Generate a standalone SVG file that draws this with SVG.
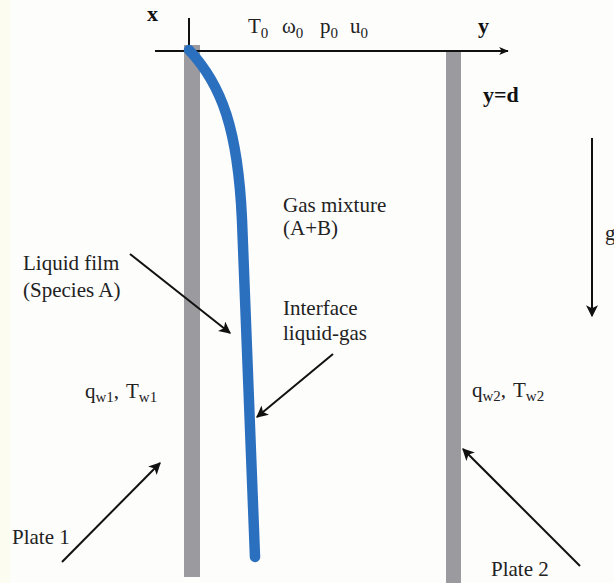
<svg xmlns="http://www.w3.org/2000/svg" width="614" height="583" viewBox="0 0 614 583">
<style>
.t{font-family:"Liberation Serif","Times New Roman",serif;font-size:21px;fill:#222}
.b{font-family:"Liberation Serif","Times New Roman",serif;font-size:22px;font-weight:bold;fill:#111}
.s{font-size:15px}
.plate{fill:#9b9a9f}
.ln{stroke:#111;stroke-width:2;fill:none}
</style>
<defs>
<marker id="ah" viewBox="0 0 10 10" refX="9" refY="5" markerWidth="6" markerHeight="6" orient="auto" markerUnits="strokeWidth">
<path d="M0,0 L10,5 L0,10 L2.5,5 Z" fill="#111"/>
</marker>
<marker id="axh" viewBox="0 0 12 10" refX="11" refY="5" markerWidth="10" markerHeight="8" orient="auto" markerUnits="userSpaceOnUse">
<path d="M0,0 L12,5 L0,10 L3,5 Z" fill="#111"/>
</marker>
</defs>
<rect width="614" height="583" fill="#fdfdfc"/>
<rect width="10" height="583" fill="#fdfcf0"/>
<g id="plate1"><rect class="plate" x="184" y="45" width="16" height="532"/></g>
<g id="plate2"><rect class="plate" x="446" y="50" width="15" height="533"/></g>
<g id="axes">
<line class="ln" x1="155" y1="51" x2="508" y2="51" stroke-width="1.6" marker-end="url(#axh)"/>
<line class="ln" x1="189" y1="18" x2="189" y2="51" stroke-width="1.6"/>
<text class="b" x="147" y="21">x</text>
<text class="b" x="478" y="33">y</text>
<text class="b" x="483" y="102">y=d</text>
</g>
<g id="inlet">
<text class="t" x="248" y="33">T<tspan class="s" dy="5">0</tspan></text>
<text class="t" x="282" y="33">ω<tspan class="s" dy="5">0</tspan></text>
<text class="t" x="320" y="33">p<tspan class="s" dy="5">0</tspan></text>
<text class="t" x="350" y="33">u<tspan class="s" dy="5">0</tspan></text>
</g>
<g id="interface">
<path d="M189,50 C222,85 238,130 242,220 L255,557" fill="none" stroke="#2b6fbf" stroke-width="10.5" stroke-linecap="round"/>
</g>
<g id="gravity">
<line class="ln" x1="592" y1="138" x2="592" y2="316" stroke-width="2.2" marker-end="url(#ah)"/>
<text class="t" x="605" y="240">g</text>
</g>
<g id="labels">
<text class="t" x="283" y="212">Gas mixture</text>
<text class="t" x="283" y="235">(A+B)</text>
<text class="t" x="23" y="270">Liquid film</text>
<text class="t" x="23" y="297">(Species A)</text>
<text class="t" x="283" y="315">Interface</text>
<text class="t" x="283" y="340">liquid-gas</text>
<text class="t" x="85" y="398">q<tspan class="s" dy="4">w1</tspan><tspan dy="-4">, </tspan><tspan dx="2">T</tspan><tspan class="s" dy="4">w1</tspan></text>
<text class="t" x="472" y="397">q<tspan class="s" dy="4">w2</tspan><tspan dy="-4">, </tspan><tspan dx="2">T</tspan><tspan class="s" dy="4">w2</tspan></text>
<text class="t" x="12" y="544" font-size="19">Plate 1</text>
<text class="t" x="491" y="576" font-size="19">Plate 2</text>
</g>
<g id="connectors">
<line class="ln" x1="130" y1="254" x2="230" y2="333" marker-end="url(#ah)"/>
<line class="ln" x1="333" y1="354" x2="257" y2="417" marker-end="url(#ah)"/>
<line class="ln" x1="62" y1="562" x2="160" y2="463" marker-end="url(#ah)"/>
<line class="ln" x1="580" y1="566" x2="463" y2="449" marker-end="url(#ah)"/>
</g>
</svg>
